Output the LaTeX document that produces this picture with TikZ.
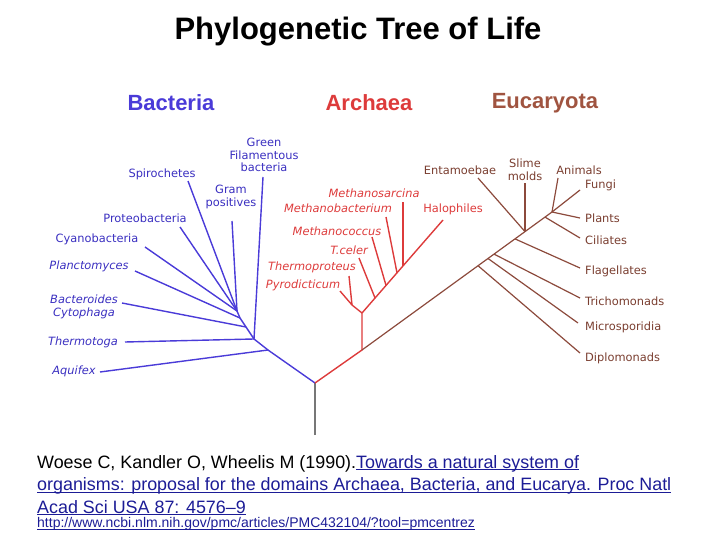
\documentclass[tikz,border=0pt]{standalone}
\usepackage{fontspec}
\setmainfont{Liberation Sans}
\newfontfamily\lblfont{DejaVu Sans}
\definecolor{bact}{HTML}{4A3BD8}
\definecolor{bactlbl}{HTML}{3A2FC0}
\definecolor{arch}{HTML}{DD3B3B}
\definecolor{euk}{HTML}{8C4A3C}
\definecolor{euklbl}{HTML}{7A3E30}
\definecolor{eukhead}{HTML}{A05440}
\definecolor{rootc}{HTML}{777777}
\definecolor{linkc}{HTML}{1C1C96}
\newcommand\myul[1]{\setbox0\hbox{#1}\rlap{\rule[-2.2pt]{\wd0}{1pt}}\box0}
\tikzset{
  lbl/.style={font=\lblfont\fontsize{11.4}{12.8}\selectfont, inner sep=0pt, align=center},
  ilbl/.style={lbl, font=\lblfont\itshape\fontsize{11.4}{12.8}\selectfont},
  head/.style={font=\bfseries\fontsize{22}{24}\selectfont, inner sep=0pt},
  bline/.style={draw=bact, line width=1.4pt},
  aline/.style={draw=arch, line width=1.4pt},
  eline/.style={draw=euk, line width=1.2pt},
  cite/.style={font=\fontsize{17.9}{20}\selectfont, inner sep=0pt, anchor=base west},
}
\begin{document}
\begin{tikzpicture}[x=1pt,y=-1pt]
\useasboundingbox (0,0) rectangle (720,540);
% title and headers
\node[font=\bfseries\fontsize{31}{34}\selectfont, inner sep=0pt] (title) at (358,32) {Phylogenetic Tree of Life};
\node[head, text=bact] (hB) at (171,103) {Bacteria};
\node[head, text=arch] (hA) at (369,103) {Archaea};
\node[head, text=eukhead] (hE) at (545,103) {Eucaryota};

% junction coordinates
\coordinate (R0) at (315,435);
\coordinate (R) at (315,383);
\coordinate (bA) at (268,350);
\coordinate (bT) at (254,339);
\coordinate (bB) at (246,327);
\coordinate (bP) at (240,318);
\coordinate (bC) at (237,311);
\coordinate (aJ) at (362,350);
\coordinate (aV) at (362,313);
\coordinate (aY) at (352,305);
\coordinate (a1) at (375,298);
\coordinate (a2) at (386,285.4);
\coordinate (a3) at (397,272.8);
\coordinate (a4) at (403,266);
\coordinate (aH) at (443,220);
\coordinate (e1) at (478,265.7);
\coordinate (e2) at (488,258.5);
\coordinate (e3) at (494,254.1);
\coordinate (e4) at (515,238.9);
\coordinate (e5) at (525,231.6);
\coordinate (e6) at (545,217.1);
\coordinate (e7) at (552,212);

% leaf ends
\coordinate (lAq) at (100,372);
\coordinate (lTh) at (125,342);
\coordinate (lGF) at (263,177);
\coordinate (lBa) at (122,303);
\coordinate (lPl) at (135,271);
\coordinate (lCy) at (145,247);
\coordinate (lPr) at (180,227);
\coordinate (lSp) at (188,181);
\coordinate (lGr) at (232,221);
\coordinate (lPy) at (340,291);
\coordinate (lTp) at (349,276);
\coordinate (lTc) at (359,258);
\coordinate (lMc) at (372,237);
\coordinate (lMb) at (386,217);
\coordinate (lMs) at (403,202);
\coordinate (lDi) at (580,353);
\coordinate (lMi) at (578,323);
\coordinate (lTr) at (580,298);
\coordinate (lFl) at (580,268);
\coordinate (lEn) at (478,178);
\coordinate (lSl) at (525,183);
\coordinate (lCi) at (580,238);
\coordinate (lPn) at (580,218);
\coordinate (lFu) at (580,190);
\coordinate (lAn) at (558,178);

% root
\draw[draw=rootc, line width=1.5pt] (R0) -- (R);
% bacteria
\draw[bline] (R) -- (bA) -- (bT) -- (bB) -- (bP) -- (bC);
\draw[bline] (lAq) -- (bA);
\draw[bline] (lTh) -- (bT);
\draw[bline] (lGF) -- (bT);
\draw[bline] (lBa) -- (bB);
\draw[bline] (lPl) -- (bP);
\draw[bline] (lCy) -- (bC);
\draw[bline] (lPr) -- (bC);
\draw[bline] (lSp) -- (bC);
\draw[bline] (lGr) -- (bC);
% archaea
\draw[aline] (R) -- (aJ) -- (aV) -- (aY) -- (lPy);
\draw[aline] (aY) -- (lTp);
\draw[aline] (aV) -- (aH);
\draw[aline] (a1) -- (lTc);
\draw[aline] (a2) -- (lMc);
\draw[aline] (a3) -- (lMb);
\draw[aline] (a4) -- (lMs);
% eukaryotes
\draw[eline] (aJ) -- (e7);
\draw[eline] (e1) -- (lDi);
\draw[eline] (e2) -- (lMi);
\draw[eline] (e3) -- (lTr);
\draw[eline] (e4) -- (lFl);
\draw[eline] (e5) -- (lEn);
\draw[eline] (e5) -- (lSl);
\draw[eline] (e6) -- (lCi);
\draw[eline] (e7) -- (lPn);
\draw[eline] (e7) -- (lFu);
\draw[eline] (e7) -- (lAn);

% bacteria labels
\node[lbl, text=bactlbl] (tGF) at (264,155) {Green\\Filamentous\\bacteria};
\node[lbl, text=bactlbl] (tSp) at (162,174) {Spirochetes};
\node[lbl, text=bactlbl] (tGr) at (231,197) {Gram\\positives};
\node[lbl, text=bactlbl] (tPr) at (145,218) {Proteobacteria};
\node[lbl, text=bactlbl] (tCy) at (97,239) {Cyanobacteria};
\node[ilbl, text=bactlbl] (tPl) at (89,266) {Planctomyces};
\node[ilbl, text=bactlbl] (tBa) at (84,307) {Bacteroides\\Cytophaga};
\node[ilbl, text=bactlbl] (tTh) at (83,342) {Thermotoga};
\node[ilbl, text=bactlbl] (tAq) at (74,371) {Aquifex};
% archaea labels
\node[ilbl, text=arch] (tMs) at (374,193) {Methanosarcina};
\node[ilbl, text=arch] (tMb) at (338,208) {Methanobacterium};
\node[lbl, text=arch] (tHa) at (453,209) {Halophiles};
\node[ilbl, text=arch] (tMc) at (337,231) {Methanococcus};
\node[ilbl, text=arch] (tTc) at (349,250) {T.celer};
\node[ilbl, text=arch] (tTp) at (312,267) {Thermoproteus};
\node[ilbl, text=arch] (tPy) at (303,285) {Pyrodicticum};
% eukaryote labels
\node[lbl, text=euklbl] (tEn) at (460,170) {Entamoebae};
\node[lbl, text=euklbl] (tSl) at (525,170) {Slime\\molds};
\node[lbl, text=euklbl] (tAn) at (579,170) {Animals};
\node[lbl, text=euklbl, anchor=west] (tFu) at (585,185) {Fungi};
\node[lbl, text=euklbl, anchor=west] (tPn) at (585,218) {Plants};
\node[lbl, text=euklbl, anchor=west] (tCi) at (585,240) {Ciliates};
\node[lbl, text=euklbl, anchor=west] (tFl) at (585,271) {Flagellates};
\node[lbl, text=euklbl, anchor=west] (tTr) at (585,301) {Trichomonads};
\node[lbl, text=euklbl, anchor=west] (tMi) at (585,327) {Microsporidia};
\node[lbl, text=euklbl, anchor=west] (tDi) at (585,358) {Diplomonads};

% citation
\node[cite] (c1) at (37,468) {Woese C, Kandler O, Wheelis M (1990).\textcolor{linkc}{\myul{Towards a natural system of}}};
\node[cite, text=linkc] (c2) at (37,490.5) {\myul{organisms: proposal for the domains Archaea, Bacteria, and Eucarya. Proc Natl}};
\node[cite, text=linkc] (c3) at (37,513) {\myul{Acad Sci USA 87: 4576–9}};
\node[cite, text=linkc, font=\fontsize{14}{15}\selectfont] (c4) at (37,527.5) {\myul{http://www.ncbi.nlm.nih.gov/pmc/articles/PMC432104/?tool=pmcentrez}};
\end{tikzpicture}
\end{document}
